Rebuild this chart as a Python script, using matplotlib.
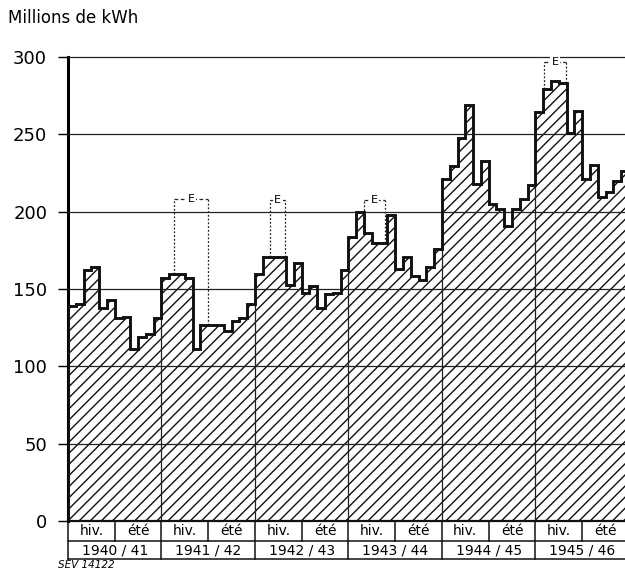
import numpy as np
import matplotlib.pyplot as plt
from matplotlib import transforms

# production mensuelle (millions de kWh), d'octobre a septembre
y1940 = [139, 140, 162, 164, 138, 143, 131, 132, 111, 119, 121, 131]
y1941 = [157, 159.5, 159.5, 157, 111, 127, 127, 127, 123, 129, 131, 140]
y1942 = [160, 171, 171, 171, 152.5, 166.5, 147.5, 152, 138, 147, 147.5, 162]
y1943 = [183.5, 200, 186.5, 179.5, 179.5, 198, 163, 171, 158.5, 156, 164, 176]
y1944 = [221, 229.5, 247.5, 269, 218, 233, 205, 202, 190.5, 202, 208.5, 217]
y1945 = [264.5, 279, 284.5, 283.5, 251, 265, 221, 230, 209.5, 213, 220, 226]

annees = ["1940 / 41", "1941 / 42", "1942 / 43", "1943 / 44", "1944 / 45", "1945 / 46"]
saisons = ["hiv.", "été"]

# cadres "E" (debut, fin en mois depuis oct. 1940, valeur du haut)
e_debut = [13.6, 25.9, 38.05, 61.1]
e_fin = [18.0, 27.8, 40.7, 63.95]
e_haut = [208, 207.5, 207.5, 296.5]

vals = np.array(y1940 + y1941 + y1942 + y1943 + y1944 + y1945)
bords = np.arange(len(vals) + 1)

plt.rcParams['hatch.linewidth'] = 1.0
plt.rcParams['font.family'] = 'DejaVu Sans'

fig = plt.figure(figsize=(6.25, 5.7), dpi=100)
ax = fig.add_axes([68/625, 1-521/570, 1-68/625, 464/570])

ax.stairs(vals, bords, baseline=0, fill=True, facecolor='white',
          edgecolor='#111111', hatch='///', lw=0, zorder=1)
ax.stairs(vals, bords, baseline=0, fill=False, color='#111111', lw=2.1, zorder=5)

for v in range(50, 301, 50):
    ax.axhline(v, color='#222222', lw=0.9, zorder=3, clip_on=False)

# separations des annees dans la surface
for k in range(1, 6):
    x = 12*k
    ax.plot([x, x], [0, min(vals[x-1], vals[x])], color='#222222', lw=0.9, zorder=3)

# cadres E en pointille
for s, e, t in zip(e_debut, e_fin, e_haut):
    ax.plot([s, s], [vals[int(s)], t], color='#222222', lw=0.9, ls=(0, (1.5, 1.5)), zorder=4)
    ax.plot([e, e], [vals[int(e)], t], color='#222222', lw=0.9, ls=(0, (1.5, 1.5)), zorder=4)
    ax.plot([s, e], [t, t], color='#222222', lw=0.9, ls=(0, (3, 2)), zorder=4)
    ax.text((s+e)/2, t, "E", ha='center', va='center', fontsize=8, zorder=6,
            bbox=dict(fc='white', ec='none', pad=0.8))

ax.set_xlim(0, 71.5)
ax.set_ylim(0, 300)
ax.set_xticks([])
ax.set_yticks(range(0, 301, 50))
ax.tick_params(axis='y', length=7, width=1, pad=8, labelsize=13)
for sp in ['top', 'right', 'bottom']:
    ax.spines[sp].set_visible(False)
ax.spines['left'].set_linewidth(2.2)
ax.axhline(0, color='#111111', lw=1.6, zorder=5, clip_on=False)

# tableau sous l'axe
tr = transforms.blended_transform_factory(ax.transData, ax.transAxes)
r1 = -(541-521)/464
r2 = -(559-521)/464
kw = dict(color='#111111', lw=1.1, transform=tr, clip_on=False)
ax.plot([0, 72], [r1, r1], **kw)
ax.plot([0, 72], [r2, r2], **kw)
ax.plot([0, 0], [0, r2], **kw)
for k in range(6):
    ax.plot([12*k+6, 12*k+6], [0, r1], **kw)
    ax.plot([12*k+12, 12*k+12], [0, r2], **kw)
    ax.text(12*k+3, r1/2, saisons[0], ha='center', va='center', fontsize=10, transform=tr)
    ax.text(12*k+9, r1/2, saisons[1], ha='center', va='center', fontsize=10, transform=tr)
    ax.text(12*k+6, (r1+r2)/2, annees[k], ha='center', va='center', fontsize=10, transform=tr)

fig.text(8/625, 1-18/570, "Millions de kWh", ha='left', va='center', fontsize=12)
fig.text(58/625, 0.5/570, "SEV 14122", ha='left', va='bottom', fontsize=7.5, style='italic')

plt.savefig('out.png', dpi=100)
